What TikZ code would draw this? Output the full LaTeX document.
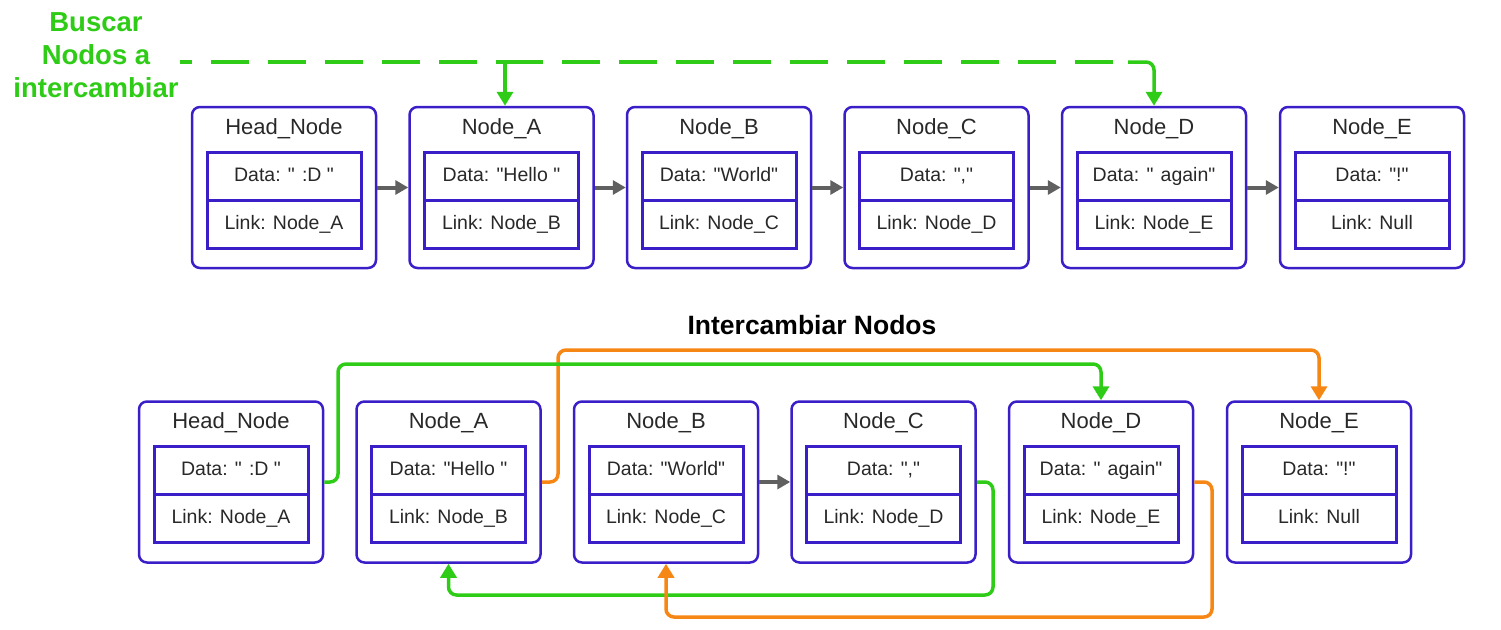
\documentclass[tikz,border=0pt]{standalone}
\usepackage{fontspec}
\setmainfont{Liberation Sans}
\usetikzlibrary{arrows.meta,calc}
\definecolor{purp}{RGB}{58,30,200}
\definecolor{grn}{RGB}{46,204,22}
\definecolor{orng}{RGB}{247,135,20}
\definecolor{gry}{RGB}{96,96,96}
\definecolor{txt}{RGB}{40,40,40}
\newcommand\qd{\textquotedbl}
\tikzset{
  outer/.style={draw=purp, line width=2.5pt, rounded corners=8pt, minimum width=184pt, minimum height=161pt, inner sep=0pt},
  ttl/.style={font=\fontsize{22}{26}\selectfont, text=txt, inner sep=0pt, text height=16pt, text depth=5pt},
  cell/.style={draw=purp, line width=3pt, minimum width=154pt, minimum height=48pt, inner sep=0pt, font=\fontsize{19.5}{23}\selectfont, text=txt, text height=14pt, text depth=4pt},
  nextarrow/.style={draw=gry, line width=4pt, -{Triangle[width=14pt,length=13pt]}},
  grnline/.style={draw=grn, line width=3.5pt, rounded corners=8pt, -{Triangle[width=16pt,length=14pt]}},
  orgline/.style={draw=orng, line width=3.5pt, rounded corners=8pt, -{Triangle[width=16pt,length=14pt]}},
  grndash/.style={draw=grn, line width=4pt, dash pattern=on 38pt off 19pt},
}
\newcommand\llnode[6]{%
  \node[outer] (#1) at (#2,#3) {};
  \node[ttl] (#1t) at ($(#1.north)+(0,23)$) {#4};
  \node[cell] (#1d) at ($(#1.center)+(0,-11.5)$) {#5};
  \node[cell] (#1l) at ($(#1.center)+(0,36.5)$) {#6};
}
\begin{document}
\begin{tikzpicture}[x=1pt,y=-1pt]
\useasboundingbox (0,0) rectangle (1501,629);
% top row
\llnode{hn}{284}{187.5}{Head\_Node}{Data: \qd{} :D \qd}{Link: Node\_A}
\llnode{na}{501.5}{187.5}{Node\_A}{Data: \qd Hello \qd}{Link: Node\_B}
\llnode{nb}{719}{187.5}{Node\_B}{Data: \qd World\qd}{Link: Node\_C}
\llnode{nc}{936.5}{187.5}{Node\_C}{Data: \qd,\qd}{Link: Node\_D}
\llnode{nd}{1154}{187.5}{Node\_D}{Data: \qd{} again\qd}{Link: Node\_E}
\llnode{ne}{1372}{187.5}{Node\_E}{Data: \qd!\qd}{Link: Null}
\draw[nextarrow] (hn.east) -- (na.west);
\draw[nextarrow] (na.east) -- (nb.west);
\draw[nextarrow] (nb.east) -- (nc.west);
\draw[nextarrow] (nc.east) -- (nd.west);
\draw[nextarrow] (nd.east) -- (ne.west);
% label and dashed search connectors
\node[align=center, font=\bfseries\fontsize{27.5}{33}\selectfont, text=grn, inner sep=0pt] (lbl) at (96,55) {Buscar\\Nodos a\\intercambiar};
\coordinate (s) at (180,62);
\coordinate (k) at (505,62);
\coordinate (k2) at (1128,62);
\draw[grndash, dash phase=26pt] (s) -- (k);
\draw[grnline] (k) -- (k |- na.north);
\draw[grndash] (k) -- (k2);
\draw[grnline] (k2) -- (nd.north |- k2) -- (nd.north);
% title
\node[font=\bfseries\fontsize{26.5}{31}\selectfont, text=black] (title) at (812,325) {Intercambiar Nodos};
% bottom row
\llnode{hnb}{231}{482}{Head\_Node}{Data: \qd{} :D \qd}{Link: Node\_A}
\llnode{nab}{448.5}{482}{Node\_A}{Data: \qd Hello \qd}{Link: Node\_B}
\llnode{nbb}{666}{482}{Node\_B}{Data: \qd World\qd}{Link: Node\_C}
\llnode{ncb}{883.5}{482}{Node\_C}{Data: \qd,\qd}{Link: Node\_D}
\llnode{ndb}{1101}{482}{Node\_D}{Data: \qd{} again\qd}{Link: Node\_E}
\llnode{neb}{1319}{482}{Node\_E}{Data: \qd!\qd}{Link: Null}
\draw[nextarrow] (nbb.east) -- (ncb.west);
\draw[orgline] (nab.east) -- (558,482) -- (558,350) -- (neb.north |- 0,350) -- (neb.north);
\draw[grnline] (hnb.east) -- (338,482) -- (338,364) -- (ndb.north |- 0,364) -- (ndb.north);
\draw[grnline] (ncb.east) -- (993,482) -- (993,595) -- (nab.south |- 0,595) -- (nab.south);
\draw[orgline] (ndb.east) -- (1212,482) -- (1212,617) -- (nbb.south |- 0,617) -- (nbb.south);
\end{tikzpicture}
\end{document}
